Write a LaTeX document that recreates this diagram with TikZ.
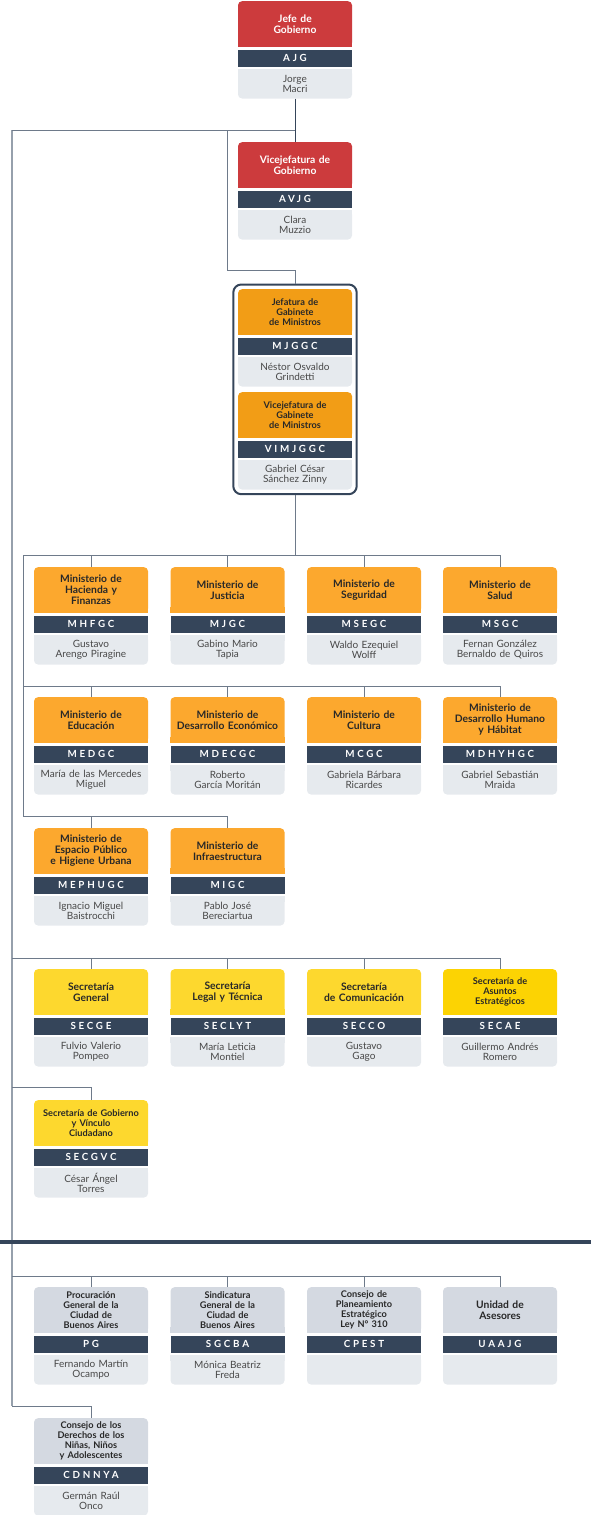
\documentclass[tikz,border=0pt]{standalone}
\usepackage{fontspec}
\setmainfont{Lato}
\newfontfamily\siglafont[LetterSpace=28]{Lato}
\usetikzlibrary{positioning, fit, backgrounds}

\definecolor{rojo}{RGB}{204,59,61}
\definecolor{naranja}{RGB}{242,157,22}
\definecolor{naranjaclaro}{RGB}{252,168,46}
\definecolor{amarillo}{RGB}{253,216,46}
\definecolor{amarillofuerte}{RGB}{252,211,3}
\definecolor{grisazul}{RGB}{212,217,225}
\definecolor{pizarra}{RGB}{53,69,90}
\definecolor{grisclaro}{RGB}{230,234,238}
\definecolor{grislinea}{RGB}{110,122,138}
\definecolor{gristronco}{RGB}{150,160,172}
\definecolor{texto}{RGB}{40,40,40}

% nombre, x, y, color, estilo del titulo, titulo, sigla, persona
\newcommand{\cargo}[8]{%
  \node[cabeza, fill=#4, #5] (#1) at (#2,#3) {#6};
  \node[sigla, below=2.5pt of #1] (#1-s) {#7};
  \node[persona, below=2.5pt of #1-s] (#1-p) {#8};
  \begin{scope}[on background layer]
    \fill[#4] (#1.south west) rectangle ([yshift=6pt]#1.south east);
    \fill[grisclaro] (#1-p.north west) rectangle ([yshift=-6pt]#1-p.north east);
  \end{scope}
}

\begin{document}
\begin{tikzpicture}[x=1pt, y=-1pt,
    cabeza/.style={anchor=north, rounded corners=4pt, minimum width=114pt, text width=112pt,
      minimum height=45.5pt, inner sep=1pt, align=center, text=texto},
    tit/.style={font=\bfseries\fontsize{10.3}{11}\selectfont},
    titchico/.style={font=\bfseries\fontsize{9.2}{10}\selectfont},
    titblanco/.style={tit, text=white},
    sigla/.style={fill=pizarra, minimum width=114pt, minimum height=17pt, inner sep=0pt,
      text=white, font=\siglafont\bfseries\fontsize{9.8}{10}\selectfont},
    persona/.style={fill=grisclaro, rounded corners=4pt, minimum width=114pt, text width=112pt,
      minimum height=29pt, inner sep=1pt, align=center, text=texto!85,
      font=\fontsize{10}{10}\selectfont},
    grupo/.style={draw=pizarra, line width=2pt, rounded corners=8pt, inner sep=4.5pt},
    conector/.style={draw=grislinea, line width=1pt},
    tronco/.style={draw=gristronco, line width=1.5pt}
]
\useasboundingbox (0,0) rectangle (591,1515);

% jefatura
\cargo{ajg}{295}{1}{rojo}{titblanco}{Jefe de\\Gobierno}{AJG}{Jorge\\Macri}
\cargo{avjg}{295}{142}{rojo}{titblanco}{Vicejefatura de\\Gobierno}{AVJG}{Clara\\Muzzio}
\cargo{mjggc}{295}{289}{naranja}{titchico}{Jefatura de\\Gabinete\\de Ministros}{MJGGC}{Néstor Osvaldo\\Grindetti}
\cargo{vimjggc}{295}{392}{naranja}{titchico}{Vicejefatura de\\Gabinete\\de Ministros}{VIMJGGC}{Gabriel César\\Sánchez Zinny}
\node[grupo, fit=(mjggc)(vimjggc-p)] (gabinete) {};

% ministerios
\cargo{mhfgc}{91}{567}{naranjaclaro}{tit}{Ministerio de\\Hacienda y\\Finanzas}{MHFGC}{Gustavo\\Arengo Piragine}
\cargo{mjgc}{227.5}{567}{naranjaclaro}{tit}{Ministerio de\\Justicia}{MJGC}{Gabino Mario\\Tapia}
\cargo{msegc}{364}{567}{naranjaclaro}{tit}{Ministerio de\\Seguridad}{MSEGC}{Waldo Ezequiel\\Wolff}
\cargo{msgc}{500}{567}{naranjaclaro}{tit}{Ministerio de\\Salud}{MSGC}{Fernan González\\Bernaldo de Quiros}

\cargo{medgc}{91}{697}{naranjaclaro}{tit}{Ministerio de\\Educación}{MEDGC}{María de las Mercedes\\Miguel}
\cargo{mdecgc}{227.5}{697}{naranjaclaro}{tit}{Ministerio de\\Desarrollo Económico}{MDECGC}{Roberto\\García Moritán}
\cargo{mcgc}{364}{697}{naranjaclaro}{tit}{Ministerio de\\Cultura}{MCGC}{Gabriela Bárbara\\Ricardes}
\cargo{mdhyhgc}{500}{697}{naranjaclaro}{tit}{Ministerio de\\Desarrollo Humano\\y Hábitat}{MDHYHGC}{Gabriel Sebastián\\Mraida}

\cargo{mephugc}{91}{828}{naranjaclaro}{tit}{Ministerio de\\Espacio Público\\e Higiene Urbana}{MEPHUGC}{Ignacio Miguel\\Baistrocchi}
\cargo{migc}{227.5}{828}{naranjaclaro}{tit}{Ministerio de\\Infraestructura}{MIGC}{Pablo José\\Bereciartua}

% secretarias
\cargo{secge}{91}{969}{amarillo}{tit}{Secretaría\\General}{SECGE}{Fulvio Valerio\\Pompeo}
\cargo{seclyt}{227.5}{969}{amarillo}{tit}{Secretaría\\Legal y Técnica}{SECLYT}{María Leticia\\Montiel}
\cargo{secco}{364}{969}{amarillo}{tit}{Secretaría\\de Comunicación}{SECCO}{Gustavo\\Gago}
\cargo{secae}{500}{969}{amarillofuerte}{titchico}{Secretaría de\\Asuntos\\Estratégicos}{SECAE}{Guillermo Andrés\\Romero}
\cargo{secgvc}{91}{1100}{amarillo}{titchico}{Secretaría de Gobierno\\y Vínculo\\Ciudadano}{SECGVC}{César Ángel\\Torres}

% organismos
\cargo{pg}{91}{1287}{grisazul}{titchico}{Procuración\\General de la\\Ciudad de\\Buenos Aires}{PG}{Fernando Martín\\Ocampo}
\cargo{sgcba}{227.5}{1287}{grisazul}{titchico}{Sindicatura\\General de la\\Ciudad de\\Buenos Aires}{SGCBA}{Mónica Beatriz\\Freda}
\cargo{cpest}{364}{1287}{grisazul}{titchico}{Consejo de\\Planeamiento\\Estratégico\\Ley N° 310}{CPEST}{}
\cargo{uaajg}{500}{1287}{grisazul}{tit}{Unidad de\\Asesores}{UAAJG}{}
\cargo{cdnnya}{91}{1418}{grisazul}{titchico}{Consejo de los\\Derechos de los\\Niñas, Niños\\y Adolescentes}{CDNNYA}{Germán Raúl\\Onco}

% conectores
\coordinate (t0) at (12,130);
\coordinate (t1) at (227,130);
\coordinate (m1) at (23,555);
\coordinate (m2) at (23,686);
\coordinate (m3) at (23,816);
\coordinate (s1) at (12,958);
\coordinate (s2) at (12,1087);
\coordinate (o1) at (12,1276);
\coordinate (o2) at (12,1406);
\coordinate (corteA) at (0,1242);
\coordinate (corteB) at (591,1242);

\draw[tronco] (t0) -- (o2);
\draw[conector] (t0) -- (ajg-p.south |- t0);
\draw[draw=pizarra, line width=1pt] (ajg-p.south) -- (avjg.north);
\draw[conector] (t1) |- ([yshift=13pt]gabinete.north) -- (gabinete.north);
\draw[conector] (gabinete.south) -- (gabinete.south |- m1);
\draw[conector] (m1) -- (m3);
\draw[conector] (m1) -- (msgc.north |- m1);
\draw[conector] (m2) -- (mdhyhgc.north |- m2);
\draw[conector] (m3) -- (migc.north |- m3);
\foreach \n in {mhfgc,mjgc,msegc,msgc} \draw[conector] (\n.north) -- (\n.north |- m1);
\foreach \n in {medgc,mdecgc,mcgc,mdhyhgc} \draw[conector] (\n.north) -- (\n.north |- m2);
\foreach \n in {mephugc,migc} \draw[conector] (\n.north) -- (\n.north |- m3);
\draw[conector] (s1) -- (secae.north |- s1);
\foreach \n in {secge,seclyt,secco,secae} \draw[conector] (\n.north) -- (\n.north |- s1);
\draw[conector] (s2) -| (secgvc.north);
\draw[conector] (o1) -- (uaajg.north |- o1);
\foreach \n in {pg,sgcba,cpest,uaajg} \draw[conector] (\n.north) -- (\n.north |- o1);
\draw[conector] (o2) -| (cdnnya.north);
\draw[draw=pizarra, line width=3.5pt] (corteA) -- (corteB);
\end{tikzpicture}
\end{document}
